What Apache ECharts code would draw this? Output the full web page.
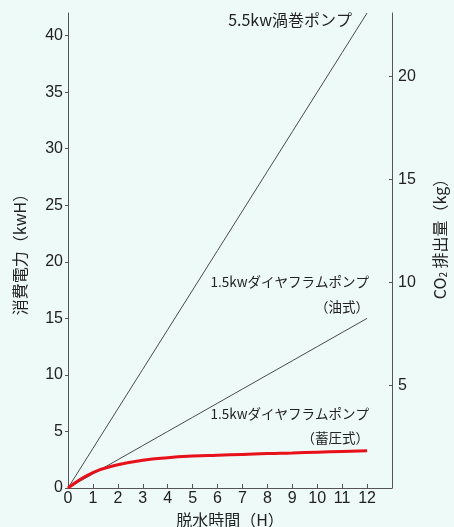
<!DOCTYPE html>
<html>
<head>
<meta charset="utf-8">
<script src="https://cdn.jsdelivr.net/npm/echarts@6/dist/echarts.min.js"></script>
<style>
  html, body { margin: 0; padding: 0; background: #eefaf7; }
  #chart { width: 454px; height: 527px; }
</style>
</head>
<body>
<div id="chart"></div>
<script>
// dewatering time (h) vs power consumption (kWh); right axis = CO2 (0.55 kg/kWh)
const hours = [0, 1, 2, 3, 4, 5, 6, 7, 8, 9, 10, 11, 12];
const vortex55 = [0, 3.5, 7, 10.5, 14, 17.5, 21, 24.5, 28, 31.5, 35, 38.5, 42];
const diaOil15 = [0, 1.25, 2.5, 3.75, 5, 6.25, 7.5, 8.75, 10, 11.25, 12.5, 13.75, 15];
const diaAccum15 = [0, 1.35, 2.05, 2.45, 2.68, 2.82, 2.9, 2.97, 3.05, 3.1, 3.17, 3.23, 3.3];
const leftTicks = [0, 5, 10, 15, 20, 25, 30, 35, 40];
const rightTicks = [5, 10, 15, 20];
const xTicks = [0, 1, 2, 3, 4, 5, 6, 7, 8, 9, 10, 11, 12];

const FONT = '"Noto Sans CJK JP", "Noto Sans", sans-serif';
const NUM = '"Liberation Sans", Arial, sans-serif';
const INK = '#222';
const AXIS = '#555';

const pairs = ys => hours.map((h, i) => [h, ys[i]]);

const chart = echarts.init(document.getElementById('chart'));
chart.setOption({
    animation: false,
    backgroundColor: '#eefaf7',
    grid: { left: 68, right: 62, top: 13, bottom: 39, outerBoundsMode: 'none', containLabel: false },
    xAxis: {
        type: 'value',
        min: 0, max: 13, interval: 1,
        name: '脱水時間（H）',
        nameLocation: 'middle',
        nameGap: 21,
        nameTextStyle: { fontSize: 16, color: INK, fontFamily: FONT },
        axisLine: { show: true, lineStyle: { color: AXIS, width: 1 } },
        axisTick: { show: true, inside: true, length: 4, customValues: xTicks, lineStyle: { color: AXIS } },
        axisLabel: { customValues: xTicks, fontSize: 16, color: INK, margin: 3, fontFamily: NUM },
        splitLine: { show: false }
    },
    yAxis: [
        {
            type: 'value',
            min: 0, max: 42,
            name: '消費電力（kwH）',
            nameLocation: 'middle',
            nameRotate: 90,
            nameGap: 40,
            nameTextStyle: { fontSize: 16, color: INK, fontFamily: FONT },
            axisLine: { show: true, lineStyle: { color: AXIS, width: 1 } },
            axisTick: { show: true, length: 3, customValues: leftTicks, lineStyle: { color: AXIS } },
            axisLabel: { customValues: leftTicks, fontSize: 16, color: INK, margin: 5, fontFamily: NUM },
            splitLine: { show: false }
        },
        {
            type: 'value',
            position: 'right',
            min: 0, max: 23.1,
            axisLine: { show: true, onZero: false, lineStyle: { color: AXIS, width: 1 } },
            axisTick: { show: true, inside: true, length: 3, customValues: rightTicks, lineStyle: { color: AXIS } },
            axisLabel: { customValues: rightTicks, fontSize: 16, color: INK, margin: 6, fontFamily: NUM },
            splitLine: { show: false }
        }
    ],
    series: [
        {
            name: '5.5kw渦巻ポンプ', type: 'line', data: pairs(vortex55),
            showSymbol: false, lineStyle: { color: '#4a4a4a', width: 1 }
        },
        {
            name: '1.5kwダイヤフラムポンプ(油式)', type: 'line', data: pairs(diaOil15),
            showSymbol: false, lineStyle: { color: '#4a4a4a', width: 1 }
        },
        {
            name: '1.5kwダイヤフラムポンプ(蓄圧式)', type: 'line', data: pairs(diaAccum15),
            smooth: 0.5, showSymbol: false, lineStyle: { color: '#e8101a', width: 3 }
        }
    ],
    graphic: [
        { type: 'text', x: 352, y: 20, style: { text: '5.5kw渦巻ポンプ', font: '16px ' + FONT, fill: INK, align: 'right', verticalAlign: 'middle' } },
        { type: 'text', x: 369, y: 282, style: { text: '1.5kwダイヤフラムポンプ', font: '13.5px ' + FONT, fill: INK, align: 'right', verticalAlign: 'middle' } },
        { type: 'text', x: 369, y: 307, style: { text: '（油式）', font: '13.5px ' + FONT, fill: INK, align: 'right', verticalAlign: 'middle' } },
        { type: 'text', x: 369, y: 414, style: { text: '1.5kwダイヤフラムポンプ', font: '13.5px ' + FONT, fill: INK, align: 'right', verticalAlign: 'middle' } },
        { type: 'text', x: 369, y: 438, style: { text: '（蓄圧式）', font: '13.5px ' + FONT, fill: INK, align: 'right', verticalAlign: 'middle' } },
        {
            type: 'text', x: 440, y: 235, rotation: Math.PI / 2,
            style: {
                text: 'CO{s|2} 排出量（kg）',
                font: '16px ' + FONT, fill: INK, align: 'center', verticalAlign: 'middle',
                rich: { s: { fontSize: 10, fontFamily: FONT, fill: INK, verticalAlign: 'bottom', padding: [7, 0, 0, 0] } }
            }
        }
    ]
});
</script>
</body>
</html>
